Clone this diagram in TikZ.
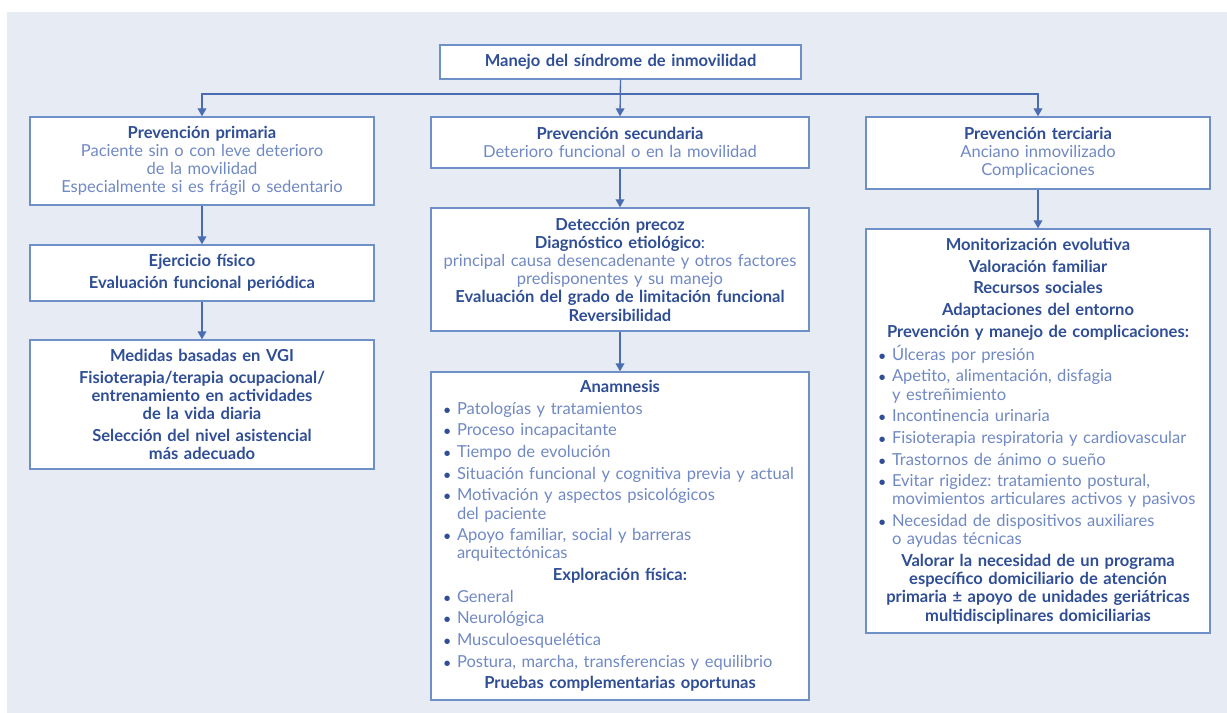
\documentclass[tikz,border=0pt]{standalone}
\usepackage{fontspec}
\setmainfont{Lato}
\usetikzlibrary{arrows.meta}
% Colores del esquema
\definecolor{fondo}{HTML}{E6EBF4}
\definecolor{borde}{HTML}{6F8FC8}
\definecolor{azulflecha}{HTML}{4A6CB0}
\definecolor{oscuro}{HTML}{2F4E95}
\definecolor{claro}{HTML}{7089C4}
% Estilos de texto: negrita oscura, normal clara, viñetas
\newcommand{\fu}{\bfseries\color{oscuro}}
\newcommand{\cl}{\mdseries\color{claro}}
\newcommand{\pto}{\makebox[10.5pt][l]{\hspace{0.5pt}\color{oscuro}\scalebox{0.75}{\textbullet}}}
\newcommand{\vin}[1]{\makebox[\linewidth][l]{\pto{\cl #1}}}
\newcommand{\sig}[1]{\makebox[\linewidth][l]{\hspace{10.5pt}{\cl #1}}}
\frenchspacing
\begin{document}
\begin{tikzpicture}[x=0.75pt,y=-0.75pt,
    caja/.style={draw=borde,line width=1pt,fill=white,inner sep=0pt,align=center,
      font=\fontsize{12.4}{13.65}\selectfont},
    flecha/.style={draw=azulflecha,line width=1pt,-{Triangle[width=6.5pt,length=6pt]}}]
  % Fondo (franja blanca arriba y a la izquierda)
  \fill[white] (0,0) rectangle (1227,713);
  \fill[fondo] (7,12) rectangle (1227,713);
  \useasboundingbox (0,0) rectangle (1227,713);

  % Caja principal
  \node[caja,minimum width=270.75pt,minimum height=25.5pt,text width=260pt] (manejo) at (620.5,62)
    {\fu Manejo del síndrome de inmovilidad};

  % Columna 1: prevención primaria
  \node[caja,minimum width=258pt,minimum height=66pt,text width=250pt] (primaria) at (202,161)
    {\fu Prevención primaria\\ \cl Paciente sin o con leve deterioro\\ \cl de la movilidad\\
     \cl Especialmente si es frágil o sedentario};
  \node[caja,minimum width=258pt,minimum height=42pt,text width=250pt] (ejercicio) at (202,273)
    {\fu Ejercicio físico\\[2.6pt] \fu Evaluación funcional periódica};
  \node[caja,minimum width=258pt,minimum height=96.75pt,text width=250pt] (medidas) at (202,404.5)
    {\fu Medidas basadas en VGI\\[2.6pt]
     \fu Fisioterapia/terapia ocupacional/\\ \fu entrenamiento en actividades\\ \fu de la vida diaria\\[2.6pt]
     \fu Selección del nivel asistencial\\ \fu más adecuado};

  % Columna 2: prevención secundaria
  \node[caja,minimum width=283.5pt,minimum height=38.25pt,text width=275pt] (secundaria) at (620,142.5)
    {\fu Prevención secundaria\\ \cl Deterioro funcional o en la movilidad};
  \node[caja,minimum width=283.5pt,minimum height=92.25pt,text width=275pt] (deteccion) at (620,269.5)
    {\fu Detección precoz\\ {\fu Diagnóstico etiológico}{\mdseries\color{oscuro}:}\\
     \cl principal causa desencadenante y otros factores\\ \cl predisponentes y su manejo\\
     \fu Evaluación del grado de limitación funcional\\ \fu Reversibilidad};
  \node[caja,minimum width=283.5pt,minimum height=246pt,text width=265.5pt] (anamnesis) at (620,536)
    {\fu Anamnesis\\[2.6pt]
     \vin{Patologías y tratamientos}\\[2.6pt]
     \vin{Proceso incapacitante}\\[2.6pt]
     \vin{Tiempo de evolución}\\[2.6pt]
     \vin{Situación funcional y cognitiva previa y actual}\\[2.6pt]
     \vin{Motivación y aspectos psicológicos}\\ \sig{del paciente}\\[2.6pt]
     \vin{Apoyo familiar, social y barreras}\\ \sig{arquitectónicas}\\[2.6pt]
     \fu Exploración física:\\[2.6pt]
     \vin{General}\\[2.6pt]
     \vin{Neurológica}\\[2.6pt]
     \vin{Musculoesquelética}\\[2.6pt]
     \vin{Postura, marcha, transferencias y equilibrio}\\[2.6pt]
     \fu Pruebas complementarias oportunas};

  % Columna 3: prevención terciaria
  \node[caja,minimum width=258pt,minimum height=54pt,text width=250pt] (terciaria) at (1038,153)
    {\fu Prevención terciaria\\ \cl Anciano inmovilizado\\ \cl Complicaciones};
  \node[caja,minimum width=258pt,minimum height=303pt,text width=240pt] (monitor) at (1038,431)
    {\fu Monitorización evolutiva\\[2.6pt] \fu Valoración familiar\\[2.6pt]
     \fu Recursos sociales\\[2.6pt] \fu Adaptaciones del entorno\\[2.6pt]
     \fu Prevención y manejo de complicaciones:\\[2.6pt]
     \vin{Úlceras por presión}\\[2.6pt]
     \vin{Apetito, alimentación, disfagia}\\ \sig{y estreñimiento}\\[2.6pt]
     \vin{Incontinencia urinaria}\\[2.6pt]
     \vin{Fisioterapia respiratoria y cardiovascular}\\[2.6pt]
     \vin{Trastornos de ánimo o sueño}\\[2.6pt]
     \vin{Evitar rigidez: tratamiento postural,}\\ \sig{movimientos articulares activos y pasivos}\\[2.6pt]
     \vin{Necesidad de dispositivos auxiliares}\\ \sig{o ayudas técnicas}\\[2.6pt]
     \fu Valorar la necesidad de un programa\\ \fu específico domiciliario de atención\\
     \fu primaria ± apoyo de unidades geriátricas\\ \fu multidisciplinares domiciliarias};

  % Conectores
  \coordinate (rama) at (620.5,94);
  \draw[flecha] (manejo.south) -- (secundaria.north);
  \draw[flecha] (rama) -| (primaria.north);
  \draw[flecha] (rama) -| (terciaria.north);
  \draw[flecha] (primaria) -- (ejercicio);
  \draw[flecha] (ejercicio) -- (medidas);
  \draw[flecha] (secundaria) -- (deteccion);
  \draw[flecha] (deteccion) -- (anamnesis);
  \draw[flecha] (terciaria) -- (monitor);
\end{tikzpicture}
\end{document}
